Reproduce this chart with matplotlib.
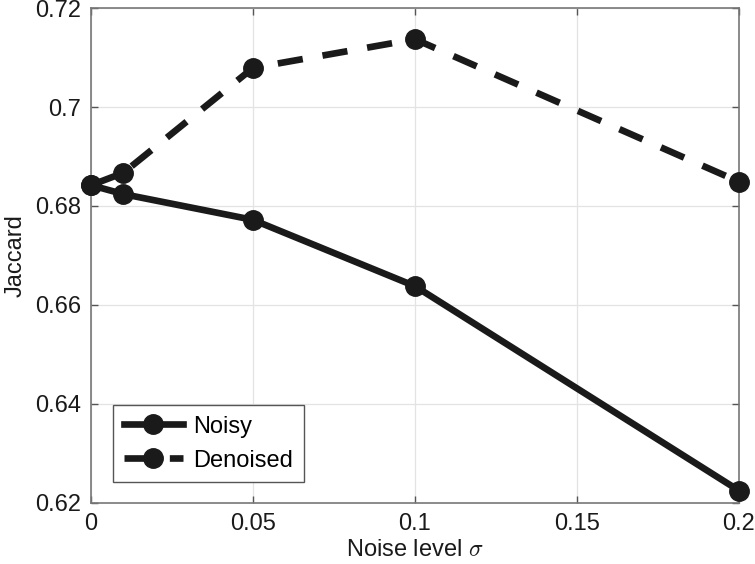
import matplotlib
matplotlib.use("Agg")
import matplotlib.pyplot as plt

noise_levels = [0, 0.01, 0.05, 0.1, 0.2]
noisy = [0.6842, 0.6824, 0.6772, 0.6638, 0.6225]
denoised = [0.6842, 0.6867, 0.7079, 0.7137, 0.6849]
x_ticks = [0, 0.05, 0.1, 0.15, 0.2]
x_tick_labels = ["0", "0.05", "0.1", "0.15", "0.2"]
y_ticks = [0.62, 0.64, 0.66, 0.68, 0.7, 0.72]
y_tick_labels = ["0.62", "0.64", "0.66", "0.68", "0.7", "0.72"]

plt.rcParams['font.family'] = ['Liberation Sans', 'DejaVu Sans']
plt.rcParams['mathtext.fontset'] = 'cm'

fig = plt.figure(figsize=(7.55, 5.64), dpi=100)
ax = fig.add_axes([0.1205, 0.1082, 0.8583, 0.8776])

col = '#1a1a1a'
ax.plot(noise_levels, noisy, '-', color=col, lw=4.8, marker='o', ms=14,
        label='Noisy', clip_on=False, zorder=3)
l2, = ax.plot(noise_levels, denoised, '--', color=col, lw=4.8, marker='o', ms=14,
              label='Denoised', clip_on=False, zorder=3, dash_capstyle='butt')
l2.set_dashes([3.8, 3.0])

ax.set_xlim(0, 0.2)
ax.set_ylim(0.62, 0.72)
ax.set_xticks(x_ticks)
ax.set_xticklabels(x_tick_labels)
ax.set_yticks(y_ticks)
ax.set_yticklabels(y_tick_labels)
ax.tick_params(direction='in', length=5, width=1, color='#555555', labelsize=17,
               top=True, right=True, pad=7, labelcolor='#1a1a1a')
ax.grid(True, color='#e3e3e3', lw=0.9)
ax.set_axisbelow(True)
for s in ax.spines.values():
    s.set_color('#777777')
    s.set_linewidth(1.2)

ax.set_xlabel(r'Noise level $\sigma$', fontsize=17, color='#1a1a1a', labelpad=3)
ax.set_ylabel('Jaccard', fontsize=17, color='#1a1a1a', labelpad=6)

leg = ax.legend(loc='lower left', bbox_to_anchor=(0.034, 0.042), borderaxespad=0,
                fontsize=17, fancybox=False, framealpha=1, edgecolor='#555555',
                handlelength=2.5, handletextpad=0.45, borderpad=0.45, labelspacing=0.5)
leg.get_frame().set_linewidth(1.0)

fig.savefig('out.png', dpi=100)
